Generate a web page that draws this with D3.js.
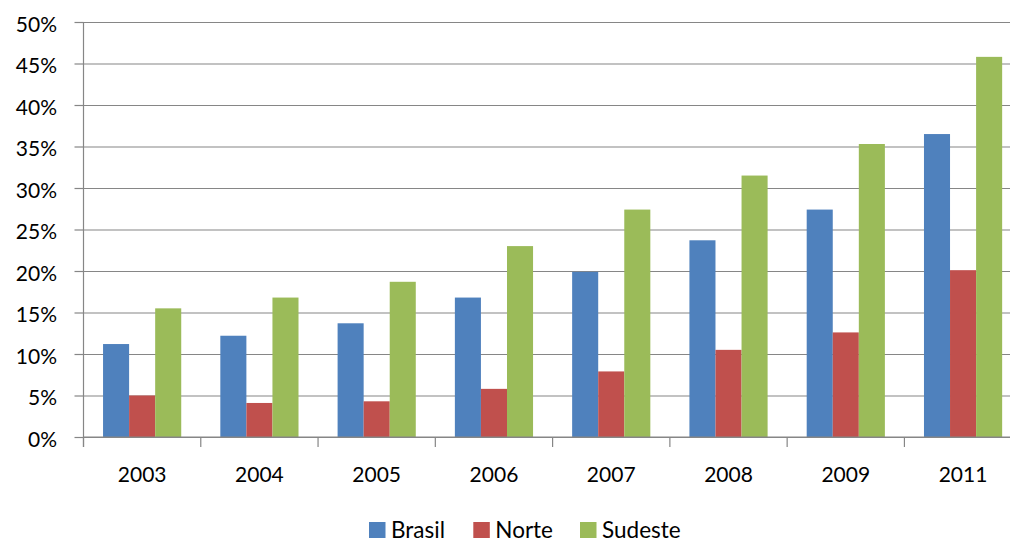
<!DOCTYPE html>
<html>
<head>
<meta charset="utf-8">
<script src="https://cdn.jsdelivr.net/npm/d3@7"></script>
<style>
  html, body { margin: 0; padding: 0; background: #fff; }
  svg { display: block; }
  text { font-family: Lato, "Open Sans", sans-serif; fill: #000; }
</style>
</head>
<body>
<svg id="chart" width="1010" height="542"></svg>
<script>
const years = ["2003", "2004", "2005", "2006", "2007", "2008", "2009", "2011"];
const seriesNames = ["Brasil", "Norte", "Sudeste"];
const brasil  = [11.2, 12.2, 13.7, 16.8, 19.9, 23.7, 27.4, 36.5];
const norte   = [5.0, 4.1, 4.3, 5.8, 7.9, 10.5, 12.6, 20.1];
const sudeste = [15.5, 16.8, 18.7, 23.0, 27.4, 31.5, 35.3, 45.8];
const yTicks = [0, 5, 10, 15, 20, 25, 30, 35, 40, 45, 50];
const colors = ["#4F81BD", "#C0504D", "#9BBB59"];

const values = [brasil, norte, sudeste];
const svg = d3.select("#chart");

const mLeft = 83.5, mTop = 22, mBottom = 437, mRight = 1021.7;

const x0 = d3.scaleBand().domain(years).range([mLeft, mRight]).padding(0);
const x1 = d3.scaleBand().domain(seriesNames).range([0, x0.bandwidth()])
  .paddingInner(0).paddingOuter(0.75);
const y = d3.scaleLinear().domain([0, 50]).range([mBottom, mTop]);
const color = d3.scaleOrdinal().domain(seriesNames).range(colors);

// gridlines + y axis
const yAxis = d3.axisLeft(y).tickValues(yTicks)
  .tickSize(9).tickPadding(0).tickFormat(d => d + "%");
const gy = svg.append("g").attr("transform", `translate(${mLeft},0)`).call(yAxis);
gy.select(".domain").remove();
gy.selectAll(".tick line").attr("stroke", "#868686").attr("stroke-width", 1.2);
gy.selectAll(".tick").append("line")
  .attr("x1", 0).attr("x2", 1010 - mLeft)
  .attr("stroke", "#868686").attr("stroke-width", 1.2);
gy.selectAll(".tick text")
  .attr("x", -26.5).attr("dy", "0.45em")
  .style("font-size", "21px").style("font-family", "Lato, 'Open Sans', sans-serif")
  .attr("fill", "#000");

// bars
const data = years.map((yr, i) => ({ year: yr, vals: seriesNames.map((s, j) => ({ s, v: values[j][i] })) }));
const groups = svg.append("g").selectAll("g").data(data).join("g")
  .attr("transform", d => `translate(${x0(d.year)},0)`);
groups.selectAll("rect").data(d => d.vals).join("rect")
  .attr("x", d => x1(d.s))
  .attr("width", x1.bandwidth())
  .attr("y", d => y(d.v))
  .attr("height", d => y(0) - y(d.v))
  .attr("fill", d => color(d.s));

// x axis
const xAxisScale = d3.scaleLinear().domain([0, years.length]).range([mLeft, mRight]);
const gx = svg.append("g").attr("transform", `translate(0,${mBottom})`);
gx.append("line").attr("x1", mLeft).attr("x2", 1010).attr("stroke", "#868686").attr("stroke-width", 1.2);
gx.selectAll("line.tk").data(d3.range(years.length + 1)).join("line")
  .attr("class", "tk")
  .attr("x1", d => xAxisScale(d)).attr("x2", d => xAxisScale(d))
  .attr("y1", 0).attr("y2", 10)
  .attr("stroke", "#868686").attr("stroke-width", 1.2);
gx.selectAll("text").data(years).join("text")
  .attr("x", d => x0(d) + x0.bandwidth() / 2)
  .attr("y", 44.5)
  .attr("text-anchor", "middle")
  .style("font-size", "21px")
  .text(d => d);

// left axis line
svg.append("line").attr("x1", mLeft).attr("x2", mLeft).attr("y1", mTop).attr("y2", mBottom + 10)
  .attr("stroke", "#868686").attr("stroke-width", 1.2);

// legend
const legendItems = [
  { name: "Brasil", x: 369 },
  { name: "Norte", x: 473.3 },
  { name: "Sudeste", x: 580 }
];
const lg = svg.append("g");
legendItems.forEach((it) => {
  lg.append("rect").attr("x", it.x).attr("y", 522).attr("width", 16.5).attr("height", 16)
    .attr("fill", color(it.name));
  lg.append("text").attr("x", it.x + 22).attr("y", 537.5)
    .style("font-size", "22.5px").text(it.name);
});
</script>
</body>
</html>
